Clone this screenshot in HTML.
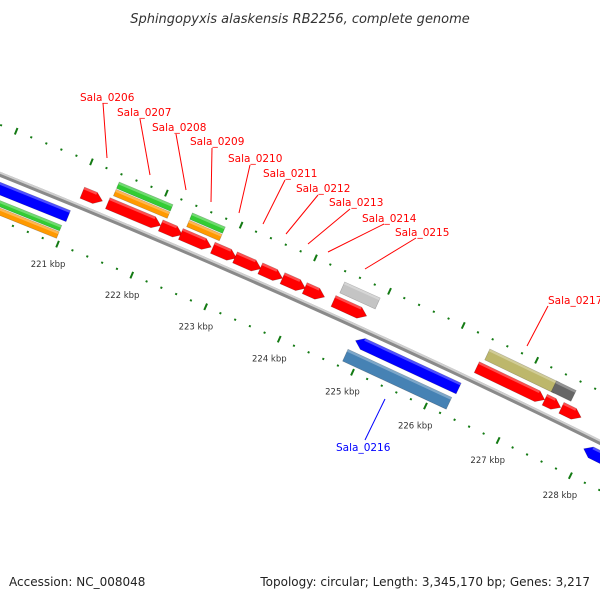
<!DOCTYPE html>
<html><head><meta charset="utf-8"><title>Genome map</title>
<style>
html,body{margin:0;padding:0;background:#fff;}
svg{display:block;font-family:"DejaVu Sans","Liberation Sans",sans-serif;}
</style></head>
<body>
<svg id="map" width="600" height="600" viewBox="0 0 600 600" xmlns="http://www.w3.org/2000/svg">
<defs>
<linearGradient id="bbGrad" x1="0" y1="0" x2="0" y2="1">
<stop offset="0" stop-color="#d0d0d0"/><stop offset="1" stop-color="#6a6a6a"/>
</linearGradient>
</defs>
<rect x="0" y="0" width="600" height="600" fill="#fff"/>
<text x="300" y="23" text-anchor="middle" font-size="13" font-style="italic" fill="#333">Sphingopyxis alaskensis RB2256, complete genome</text>
<g id="ticks"></g>
<g id="backbone"></g>
<g id="features"></g>
<g id="labels"></g>
<text x="9" y="586" font-size="12" fill="#222">Accession: NC_008048</text>
<text x="590" y="586" text-anchor="end" font-size="12" fill="#222">Topology: circular; Length: 3,345,170 bp; Genes: 3,217</text>
</svg>
<script>
// ---- data (kbp positions) ----
const majorTicks = [219, 220, 221, 222, 223, 224, 225, 226, 227, 228, 229];
const tickLabels = ["221 kbp","222 kbp","223 kbp","224 kbp","225 kbp","226 kbp","227 kbp","228 kbp"];
const tickLabelPos = [221, 222, 223, 224, 225, 226, 227, 228];
const minorStep = 0.2;
// forward red CDS row
const fwdRedStart = [221.04, 221.38, 222.09, 222.36, 222.79, 223.09, 223.43, 223.73, 224.03, 224.42, 226.37, 227.30, 227.53];
const fwdRedEnd   = [221.31, 222.09, 222.38, 222.77, 223.11, 223.44, 223.73, 224.04, 224.30, 224.87, 227.30, 227.52, 227.80];
// forward orange / green rows
const fwdOrangeStart = [221.41, 222.39];
const fwdOrangeEnd   = [222.13, 222.83];
const fwdGreenStart = [221.41, 222.39];
const fwdGreenEnd   = [222.13, 222.83];
// forward other row (gray, olive, dark gray)
const fwdOtherStart = [224.45, 226.42, 227.33];
const fwdOtherEnd   = [224.93, 227.37, 227.60];
const fwdOtherColor = ["#c4c4c4", "#bdb76b", "#666666"];
// reverse blue row
const revBlueStart = [219.3, 224.87, 228.00];
const revBlueEnd   = [220.99, 226.28, 229.3];
// reverse second row
const revGreenStart = [219.3];
const revGreenEnd = [220.96];
const revOrangeStart = [219.3];
const revOrangeEnd = [220.96];
const revSteelStart = [224.83];
const revSteelEnd = [226.25];
// label annotations
const labelNames = ["Sala_0206","Sala_0207","Sala_0208","Sala_0209","Sala_0210","Sala_0211","Sala_0212","Sala_0213","Sala_0214","Sala_0215","Sala_0217","Sala_0216"];
const labelTextX = [80,117,152,190,228,263,296,329,362,395,548,336];
const labelTextY = [101,116,131,145,162,177,192,206,222,236,304,451];
const lineX1 = [103,140,176,212,250,285,318,350,384,416,548,365];
const lineY1 = [103,119,134,148,165,180,195,209,224,238,306,440];
const lineX2 = [107,150,186,211,239,263,286,308,328,365,527,385];
const lineY2 = [158,175,190,202,213,224,234,244,252,269,346,399];
const labelColor = ["red","red","red","red","red","red","red","red","red","red","red","blue"];

// ---- geometry ----
const CX = -3143, CY = 8017, R = 8449;
const TH0 = -67.62, DEG_PER_KBP = 0.548;
function ang(k){ return (TH0 + (k - 221) * DEG_PER_KBP) * Math.PI / 180; }
function pt(k, r){ const a = ang(k); return [CX + r * Math.cos(a), CY + r * Math.sin(a)]; }
const NS = "http://www.w3.org/2000/svg";
function mk(tag, parent, attrs){
  const e = document.createElementNS(NS, tag);
  for (const k in attrs) e.setAttribute(k, attrs[k]);
  parent.appendChild(e); return e;
}
function P(a){ return a.map(p => p[0].toFixed(1) + "," + p[1].toFixed(1)).join(" "); }

// ---- backbone ----
const bbG = document.getElementById("backbone");
(function(){
  const pts = [];
  for (let k = 218.5; k <= 229.6; k += 0.25) pts.push(pt(k, R + 2.5));
  for (let k = 229.6; k >= 218.5; k -= 0.25) pts.push(pt(k, R - 2.5));
  const b = mk("polygon", bbG, {points: P(pts), fill: "#8a8a8a"});
  
  
  const hl = [];
  for (let k = 218.5; k <= 229.6; k += 0.25) hl.push(pt(k, R + 2.5));
  for (let k = 229.6; k >= 218.5; k -= 0.25) hl.push(pt(k, R + 0.5));
  const h = mk("polygon", bbG, {points: P(hl), fill: "#cfcfcf"});
  
  
})();

// ---- ticks ----
const tG = document.getElementById("ticks");
const ringR = [R + 46, R - 43];
for (const rr of ringR) {
  for (let k = 218.6; k <= 229.4; k += minorStep) {
    const kk = Math.round(k * 10) / 10;
    if (Math.abs(kk - Math.round(kk)) < 0.01) continue;
    const a = pt(kk, rr - 1), b = pt(kk, rr + 1);
    const t = mk("line", tG, {x1:a[0],y1:a[1],x2:b[0],y2:b[1],stroke:"#137a13","stroke-width":2});
    
    
  }
  for (const k of majorTicks) {
    const a = pt(k, rr - 3.5), b = pt(k, rr + 3.5);
    const t = mk("line", tG, {x1:a[0],y1:a[1],x2:b[0],y2:b[1],stroke:"#137a13","stroke-width":2});
    
    
  }
}
tickLabelPos.forEach((k, i) => {
  const p = pt(k, R - 60);
  const t = mk("text", tG, {x:p[0] - 3, y:p[1] + 7, "text-anchor":"middle", "font-size":"8.5", fill:"#333"});
  t.textContent = tickLabels[i];
  
  
});

// ---- features ----
const fG = document.getElementById("features");
function shade(c){ return c; }
function feature(s, e, r1, r2, color, dir, name){
  // dir: 1 forward arrow, -1 reverse arrow, 0 box
  const head = 0.1, mid = (r1 + r2) / 2;
  let pts;
  if (dir === 1) {
    const b = Math.max(s, e - head);
    pts = [pt(s, r2), pt(b, r2), pt(e, mid), pt(b, r1), pt(s, r1)];
  } else if (dir === -1) {
    const b = Math.min(e, s + head);
    pts = [pt(s, mid), pt(b, r2), pt(e, r2), pt(e, r1), pt(b, r1)];
  } else {
    pts = [pt(s, r2), pt(e, r2), pt(e, r1), pt(s, r1)];
  }
  const g = mk("g", fG, {});
  
  
  mk("polygon", g, {points: P(pts), fill: color, stroke: "rgba(0,0,0,0.25)", "stroke-width": 0.6});
  // highlight stripe on top edge
  const hs = dir === -1 ? Math.min(e, s + 0.1) : s;
  const he = dir === 1 ? Math.max(s, e - 0.1) : e;
  const hl = mk("polygon", g, {points: P([pt(hs, r2), pt(he, r2), pt(he, r2 - 2.5), pt(hs, r2 - 2.5)]), fill: "rgba(255,255,255,0.3)"});
  
  
}
fwdRedStart.forEach((s, i) => feature(s, fwdRedEnd[i], R + 8, R + 20, "#ff0000", 1, "forward-cds"));
fwdOrangeStart.forEach((s, i) => feature(s, fwdOrangeEnd[i], R + 23, R + 30, "#ff9900", 0, "forward-orange-feature"));
fwdGreenStart.forEach((s, i) => feature(s, fwdGreenEnd[i], R + 31, R + 38, "#33cc33", 0, "forward-green-feature"));
fwdOtherStart.forEach((s, i) => feature(s, fwdOtherEnd[i], R + 24, R + 36, fwdOtherColor[i], 0, "forward-other-feature"));
revBlueStart.forEach((s, i) => feature(s, revBlueEnd[i], R - 19, R - 7, "#0000ff", -1, "reverse-cds"));
revGreenStart.forEach((s, i) => feature(s, revGreenEnd[i], R - 30, R - 24, "#33cc33", 0, "reverse-green-feature"));
revOrangeStart.forEach((s, i) => feature(s, revOrangeEnd[i], R - 38, R - 31, "#ff9900", 0, "reverse-orange-feature"));
revSteelStart.forEach((s, i) => feature(s, revSteelEnd[i], R - 37, R - 24, "#4682b4", 0, "reverse-gene"));

// ---- labels ----
const lG = document.getElementById("labels");
labelNames.forEach((n, i) => {
  const l = mk("line", lG, {x1:lineX1[i], y1:lineY1[i], x2:lineX2[i], y2:lineY2[i], stroke:labelColor[i], "stroke-width":1});
  
  
  const t = mk("text", lG, {x:labelTextX[i], y:labelTextY[i], "font-size":"10.5", fill:labelColor[i]});
  t.textContent = n;
  
  
});
</script>
</body></html>
